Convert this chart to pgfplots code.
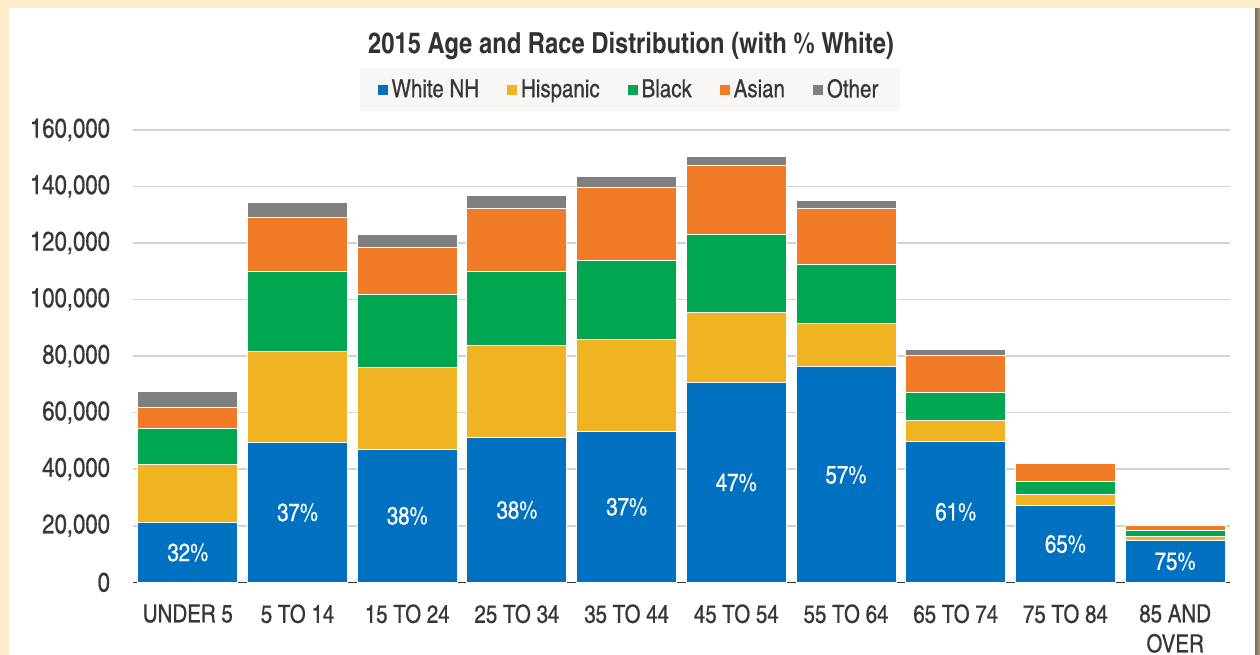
\documentclass[border=0pt]{standalone}
\usepackage{fontspec}
\setmainfont{texgyreheroscn}[Extension=.otf, UprightFont=*-regular, BoldFont=*-bold, ItalicFont=*-italic, BoldItalicFont=*-bolditalic, UprightFeatures={FakeBold=0.5}]
\usepackage{pgfplots}
\pgfplotsset{compat=1.18}

\definecolor{cWhite}{RGB}{0,112,192}
\definecolor{cHisp}{RGB}{240,180,35}
\definecolor{cBlack}{RGB}{0,166,80}
\definecolor{cAsian}{RGB}{242,123,40}
\definecolor{cOther}{RGB}{127,127,127}
\definecolor{beige}{RGB}{252,236,202}
\definecolor{shadowA}{RGB}{118,106,84}
\definecolor{shadowB}{RGB}{175,160,128}
\definecolor{txt}{RGB}{55,55,55}
\definecolor{ttl}{RGB}{50,50,50}
\definecolor{gridc}{RGB}{210,210,210}
\definecolor{legbg}{RGB}{248,247,245}

\begin{document}
\begin{tikzpicture}
\useasboundingbox (0,0) rectangle (630bp,-327.5bp);
% frame
\fill[beige] (0,0) rectangle (630bp,-327.5bp);
\fill[white] (4.25bp,-4bp) rectangle (627.5bp,-327.5bp);
\shade[left color=shadowA, right color=shadowB] (627.5bp,-4bp) rectangle (630bp,-327.5bp);

\begin{axis}[
  at={(66.5bp,-291.15bp)}, anchor=south west,
  scale only axis, width=548.5bp, height=226.15bp,
  ybar stacked, bar width=50bp,
  xmin=-0.5, xmax=9.5, ymin=0, ymax=160000,
  xtick={0,...,9},
  xticklabels={UNDER 5,5 TO 14,15 TO 24,25 TO 34,35 TO 44,45 TO 54,55 TO 64,65 TO 74,75 TO 84,{85 AND\\OVER}},
  xticklabel style={align=center, font=\fontsize{12.5bp}{15bp}\selectfont, text=txt, yshift=-7.5bp},
  ytick={0,20000,40000,60000,80000,100000,120000,140000,160000},
  yticklabels={0,{20,000},{40,000},{60,000},{80,000},{100,000},{120,000},{140,000},{160,000}},
  scaled y ticks=false,
  yticklabel style={font=\fontsize{13.5bp}{15bp}\selectfont, text=txt},
  yticklabel shift=8bp,
  axis lines*=left,
  y axis line style={draw=none},
  x axis line style={draw=txt, line width=0.8bp},
  major tick length=0pt,
  ymajorgrids, grid style={gridc, line width=0.75bp},
  title={2015 Age and Race Distribution (with \% White)},
  title style={at={(0.454,1.159)}, anchor=center,
    font=\bfseries\fontsize{14.5bp}{16bp}\selectfont, text=ttl},
  legend columns=-1,
  legend style={at={(0.453,1.089)}, anchor=center, draw=none, fill=legbg,
    font=\fontsize{12.5bp}{14bp}\selectfont, text=txt, inner xsep=9bp, inner ysep=3.5bp,
    /tikz/every even column/.append style={column sep=12bp}},
  legend image code/.code={\fill[#1, draw=none] (0bp,-2.5bp) rectangle (5bp,2.5bp);},
]
\addplot[fill=cWhite, draw=white, line width=0.5bp,
  nodes near coords, point meta=explicit symbolic,
  visualization depends on=y \as \rawy,
  every node near coord/.append style={anchor=center, text=white,
    font=\fontsize{12.5bp}{14bp}\selectfont, shift={(axis direction cs:0,-\rawy/1000)}}]
  coordinates {(0,21100) [32\%] (1,49500) [37\%] (2,47100) [38\%] (3,51200) [38\%] (4,53500) [37\%]
               (5,70700) [47\%] (6,76200) [57\%] (7,49900) [61\%] (8,27100) [65\%] (9,14900) [75\%]};
\addplot[fill=cHisp, draw=white, line width=0.5bp]
  coordinates {(0,20600) (1,32300) (2,29000) (3,32400) (4,32500) (5,24900) (6,15400) (7,7200) (8,3800) (9,1200)};
\addplot[fill=cBlack, draw=white, line width=0.5bp]
  coordinates {(0,12700) (1,28000) (2,25800) (3,26400) (4,27900) (5,27400) (6,20900) (7,10000) (8,4700) (9,2400)};
\addplot[fill=cAsian, draw=white, line width=0.5bp]
  coordinates {(0,7300) (1,19100) (2,16400) (3,22200) (4,25900) (5,24500) (6,19700) (7,13200) (8,6500) (9,1700)};
\addplot[fill=cOther, draw=white, line width=0.5bp]
  coordinates {(0,5700) (1,5300) (2,4700) (3,4700) (4,3900) (5,3200) (6,2700) (7,2200) (8,300) (9,200)};
\legend{White NH, Hispanic, Black, Asian, Other}
\end{axis}
\end{tikzpicture}
\end{document}
